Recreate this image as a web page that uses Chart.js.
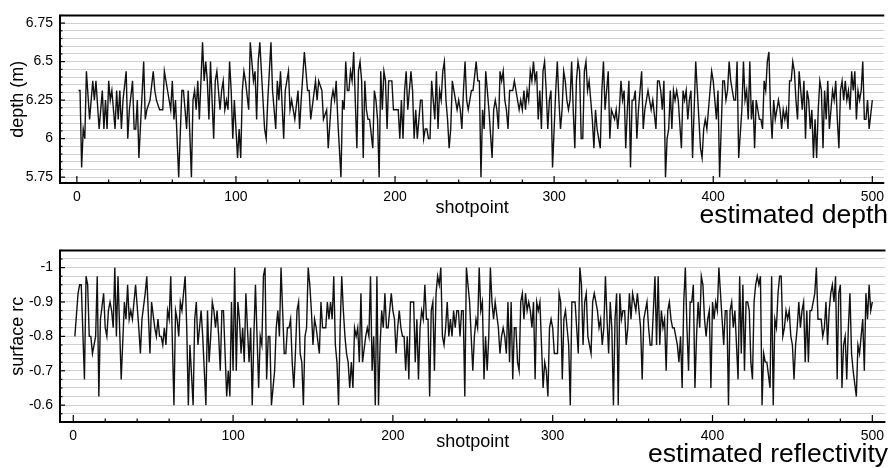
<!DOCTYPE html>
<html><head><meta charset="utf-8">
<script src="https://cdn.jsdelivr.net/npm/chart.js@4.4.1/dist/chart.umd.min.js"></script>
<style>
html,body{margin:0;padding:0;background:#fff;width:890px;height:468px;overflow:hidden;}
#c1{position:absolute;left:0;top:0;}
#c2{position:absolute;left:0;top:235px;}
</style></head><body>
<canvas id="c1" width="890" height="235"></canvas>
<canvas id="c2" width="890" height="233"></canvas>
<script>
// ---- estimated depth (m) vs shotpoint ----
const depthShot = [
1,2,3,4,5,6,8,10,11,12,14,15,16,17,18,19,20,21,22,24,25,26,27,28,29,31,32,33,35,36,37,38,39,42,43,44,46,48,49,50,52,54,55,57,58,59,60,61,62,64,66,67,69,70,72,73,74,75,76,77,
79,80,81,82,83,84,86,87,88,90,91,92,93,94,95,96,97,98,99,101,102,103,104,105,106,108,109,111,112,113,114,115,116,118,119,120,122,123,125,126,127,128,130,131,133,134,135,137,139,140,141,143,145,146,147,150,151,152,154,155,157,158,
160,161,162,163,164,166,167,168,169,170,171,172,173,174,176,177,178,179,180,181,182,183,184,186,187,188,189,190,191,192,193,194,195,196,198,199,201,202,203,204,205,206,207,208,210,211,212,213,214,215,216,217,218,219,220,221,222,223,225,226,227,228,229,230,231,232,233,234,235,236,238,239,240,241,242,243,244,
245,246,247,248,249,251,252,253,254,255,256,257,258,259,261,262,263,264,265,266,267,268,269,270,271,272,273,274,275,276,278,279,280,281,282,283,284,285,286,287,288,289,290,291,292,293,294,295,296,297,298,299,301,302,303,304,305,306,307,308,309,310,311,312,313,314,315,316,317,318,319,320,321,322,323,324,325,326,
327,329,330,331,332,333,334,335,336,338,339,340,341,342,343,344,345,346,347,348,349,350,351,352,353,354,355,356,357,358,359,360,361,362,364,365,366,367,368,369,370,371,372,373,374,375,376,377,378,380,381,382,383,384,385,386,387,388,389,390,391,392,393,394,395,396,397,398,399,400,401,402,403,404,406,407,408,409,410,411,412,413,
414,415,416,418,419,420,421,422,423,424,425,426,427,428,429,430,431,432,433,434,435,436,437,438,439,441,442,443,444,445,446,447,448,449,450,451,452,453,454,455,456,457,458,459,460,461,462,463,464,465,466,467,468,469,470,471,472,473,475,476,477,478,479,480,481,482,483,484,485,486,487,488,489,490,491,492,493,494,495,496,497,498,500
];
const depthValue = [
6.3125,6.3125,5.8125,6.0625,6.0,6.4375,6.125,6.375,6.25,6.375,6.0625,6.1875,6.3125,6.0625,6.25,6.0625,6.375,6.25,6.3125,6.0625,6.3125,6.125,6.3125,6.0625,6.25,6.4375,6.0,6.1875,6.375,6.0625,6.0625,6.25,5.875,6.5,6.125,6.1875,6.25,6.4375,6.3125,6.25,6.1875,6.1875,6.4375,6.3125,6.25,6.1875,6.375,6.125,6.25,5.75,6.3125,6.3125,6.0625,6.3125,5.75,6.25,6.3125,6.1875,6.375,6.125,
6.625,6.375,6.5,6.375,6.125,6.5,6.0,6.375,6.4375,6.1875,6.3125,6.375,6.1875,6.25,6.1875,6.5,6.3125,6.0,6.25,5.875,6.0625,5.875,6.3125,6.4375,6.375,6.1875,6.625,6.375,6.4375,6.125,6.5,6.625,6.4375,6.0625,6.0,6.25,6.625,6.3125,6.0625,6.375,6.25,6.4375,6.0,6.3125,6.4375,6.1875,6.25,6.125,6.3125,6.0625,6.25,6.5625,6.3125,6.3125,6.125,6.375,6.25,6.375,6.3125,6.125,6.1875,5.9375,
6.25,6.3125,6.25,6.375,6.125,5.75,6.25,6.1875,6.5,6.3125,6.3125,6.4375,6.375,6.5625,5.9375,6.4375,6.5,6.375,5.875,6.375,6.1875,6.125,6.125,5.9375,6.3125,6.25,6.125,5.75,6.4375,6.1875,6.4375,6.375,6.0625,6.375,6.375,6.1875,6.1875,6.1875,6.0,6.25,6.0,6.3125,6.4375,6.1875,6.4375,6.3125,6.0,6.1875,6.0,6.125,6.25,6.25,6.0,6.0625,6.0625,6.0,6.0,6.375,6.125,6.4375,6.0625,6.3125,6.25,6.4375,6.5,6.25,6.125,5.9375,6.0625,6.375,6.25,6.1875,6.25,6.1875,6.0625,6.3125,6.5,
6.25,6.1875,6.25,6.3125,6.3125,6.5,6.375,6.375,5.75,6.1875,6.0625,6.4375,6.3125,6.1875,5.875,6.1875,6.25,6.1875,6.0625,6.4375,6.375,6.4375,6.25,6.1875,6.0625,6.3125,6.3125,6.3125,6.375,6.3125,6.1875,6.25,6.1875,6.3125,6.1875,6.3125,6.25,6.4375,6.375,6.5,6.375,6.4375,6.125,6.3125,6.0625,6.4375,6.5,6.3125,6.0625,6.25,6.3125,5.8125,6.3125,6.5,6.25,6.0625,6.1875,6.4375,6.375,6.25,6.1875,6.25,6.5,6.1875,5.9375,6.375,6.5,6.4375,6.0,6.0,6.4375,6.5,6.3125,6.375,6.25,6.125,5.9375,6.1875,
6.0625,5.9375,6.3125,6.5,6.1875,6.3125,6.4375,6.0,6.1875,6.125,6.1875,6.0625,6.1875,6.375,6.25,6.3125,5.9375,6.1875,6.375,5.8125,6.25,6.25,6.3125,6.0,6.1875,6.3125,6.4375,6.0625,6.1875,6.25,6.3125,6.25,6.1875,6.25,6.0625,6.375,6.375,6.3125,6.1875,6.375,5.75,6.0,6.0625,6.3125,6.0625,6.3125,6.25,6.3125,6.25,5.9375,6.3125,6.25,6.3125,6.125,6.25,6.3125,5.875,6.1875,6.5,6.3125,6.125,5.9375,5.875,6.0625,6.125,6.0625,6.1875,6.3125,6.4375,6.375,6.25,6.125,6.3125,5.75,6.375,6.375,6.25,6.3125,6.5,6.375,6.3125,6.25,
6.25,6.5,5.875,6.1875,6.5,6.25,6.3125,6.125,6.5,6.125,6.25,5.9375,6.25,6.1875,6.125,6.125,6.0625,6.375,6.3125,6.5,6.5625,6.1875,6.0,6.25,6.125,6.25,6.1875,6.0625,6.1875,6.125,6.1875,6.0625,6.375,6.375,6.5,6.4375,6.25,6.125,6.4375,6.3125,6.1875,6.375,6.0,6.3125,6.25,6.0625,6.1875,5.875,6.125,5.875,6.1875,6.375,6.3125,5.9375,6.3125,6.125,6.375,6.0625,6.3125,6.25,6.375,6.125,5.9375,6.3125,6.375,6.25,6.375,6.25,6.3125,6.1875,6.4375,6.3125,6.4375,6.125,6.3125,6.25,6.3125,6.5,6.125,6.125,6.25,6.0625,6.25
];

// ---- estimated reflectivity (surface rc) vs shotpoint ----
const rcShot = [
1,3,4,5,7,8,9,10,11,12,14,15,16,17,19,20,21,22,23,24,25,26,27,28,30,32,33,34,35,36,37,39,41,42,43,45,46,48,49,51,52,53,54,55,56,57,58,59,60,61,63,64,65,66,67,68,70,71,72,73,75,76,77,78,
80,81,82,83,84,85,86,87,88,89,90,91,92,93,94,95,96,97,98,99,100,101,102,103,104,105,106,107,108,109,110,111,112,113,114,115,116,117,118,119,120,121,122,123,124,
126,127,128,129,130,131,132,133,134,135,136,137,138,139,140,141,142,143,144,145,146,147,148,149,150,151,152,154,155,156,157,158,159,160,161,162,
163,164,165,166,167,168,169,170,171,172,173,174,175,176,177,178,179,180,181,183,184,185,186,187,188,189,190,191,192,193,194,195,196,197,
199,200,201,202,203,204,205,206,207,208,209,210,211,212,213,214,215,216,217,218,219,220,221,222,223,224,225,226,227,228,229,230,231,232,233,234,235,236,237,238,239,240,241,242,243,244,245,246,
248,249,250,251,252,253,254,255,256,257,258,259,260,261,262,263,264,266,267,268,269,270,271,272,273,274,275,276,277,278,279,280,281,282,283,284,285,286,287,288,289,290,291,292,
294,295,296,297,298,299,300,301,302,303,304,305,306,307,308,309,310,311,312,313,314,315,316,317,318,319,320,321,322,324,325,326,327,328,329,330,
331,332,333,334,335,336,337,338,339,340,341,342,343,344,345,346,347,348,349,350,
352,353,354,355,356,357,358,359,360,361,362,363,364,365,366,367,368,369,370,371,372,373,374,375,376,377,378,379,380,381,382,383,384,385,386,387,388,389,390,391,392,393,394,395,396,397,398,399,400,401,402,403,404,406,407,408,409,410,411,412,413,414,
415,416,417,418,419,420,421,422,423,424,425,426,427,428,429,430,431,432,433,434,436,437,438,439,440,441,442,443,444,445,446,447,448,449,450,451,452,453,454,455,456,457,458,459,460,461,462,
464,465,466,467,468,469,470,471,472,473,474,475,476,477,478,479,480,481,482,483,484,485,486,487,488,490,491,492,493,494,495,496,497,498,499,500
];
const rcValue = [
-0.8,-0.925,-0.95,-0.95,-0.675,-0.975,-0.95,-0.8,-0.8,-0.75,-0.8,-0.975,-0.625,-0.85,-0.925,-0.825,-0.8,-0.875,-0.9,-0.875,-0.825,-1.0,-0.8,-0.975,-0.675,-0.9,-0.85,-0.95,-0.85,-0.875,-0.85,-0.95,-0.825,-0.75,-0.85,-0.925,-0.975,-0.75,-0.9,-0.825,-0.8,-0.85,-0.8,-0.8,-0.775,-0.825,-0.775,-0.875,-0.85,-0.975,-0.6,-0.875,-0.85,-0.8,-0.9,-0.875,-0.975,-0.825,-0.6,-0.775,-0.6,-0.85,-0.9,-0.775,
-0.875,-0.8,-0.7,-0.6,-0.875,-0.725,-0.8,-0.9,-0.875,-0.825,-0.875,-0.8,-0.7,-0.875,-0.875,-0.75,-0.625,-0.7,-0.625,-0.9,-0.7,-1.0,-0.7,-0.9,-0.85,-0.75,-0.825,-0.725,-0.925,-0.825,-0.725,-0.825,-0.6,-0.8,-0.95,-0.8,-0.65,-0.8,-0.775,-0.975,-1.0,-0.675,-0.8,-0.8,-0.6,
-0.7,-0.825,-0.875,-0.8,-1.0,-0.875,-0.75,-0.75,-0.825,-0.825,-0.85,-0.725,-0.65,-0.75,-0.875,-0.9,-0.75,-0.725,-0.6,-0.8,-0.825,-1.0,-0.95,-0.875,-0.775,-0.85,-0.825,-0.75,-0.9,-0.825,-0.825,-0.825,-0.9,-0.85,-0.9,-0.85,
-0.975,-0.775,-0.725,-0.6,-0.825,-0.975,-0.875,-0.8,-0.75,-0.725,-0.65,-0.725,-0.65,-0.825,-0.8,-0.825,-0.725,-0.925,-0.725,-0.8,-0.825,-0.8,-0.975,-0.7,-0.8,-0.6,-0.975,-0.6,-0.775,-0.875,-0.825,-0.925,-0.825,-0.825,
-0.925,-0.875,-0.85,-0.75,-0.825,-0.875,-0.825,-0.8,-0.8,-0.7,-0.8,-0.675,-0.9,-0.9,-0.9,-0.725,-0.85,-0.675,-0.825,-0.875,-0.85,-0.95,-0.85,-0.85,-0.625,-0.875,-0.9,-0.7,-0.925,-0.975,-0.95,-1.0,-0.8,-0.775,-0.825,-0.9,-0.8,-0.85,-0.8,-0.875,-0.825,-0.875,-0.875,-0.8,-0.875,-0.875,-0.625,-1.0,
-0.9,-0.8,-0.7,-0.8,-0.85,-0.825,-1.0,-0.875,-0.9,-0.675,-0.8,-0.7,-0.8,-1.0,-0.9,-0.85,-0.9,-0.825,-0.75,-0.8,-0.825,-0.8,-0.75,-0.9,-0.725,-0.9,-0.675,-0.825,-0.825,-0.725,-0.7,-0.9,-0.925,-0.85,-0.925,-0.875,-0.9,-0.875,-0.825,-0.9,-0.675,-0.9,-0.875,-0.9,
-0.65,-0.725,-0.7,-0.625,-0.825,-0.85,-0.825,-0.75,-0.75,-0.75,-0.925,-0.9,-0.675,-0.85,-0.875,-0.825,-0.775,-0.6,-0.9,-0.9,-0.9,-0.825,-0.75,-1.0,-0.95,-0.775,-0.9,-0.925,-0.8,-0.75,-0.9,-0.925,-0.9,-0.875,-0.825,-0.85,
-0.775,-0.825,-0.975,-0.85,-0.75,-0.9,-0.825,-0.6,-0.85,-0.925,-0.6,-0.925,-0.85,-0.875,-0.875,-0.775,-0.825,-0.925,-0.85,-0.925,
-0.875,-0.925,-0.875,-0.825,-0.675,-0.85,-0.875,-0.9,-0.825,-0.775,-0.775,-0.875,-0.975,-0.775,-0.975,-0.775,-0.875,-0.825,-0.85,-0.7,-0.875,-0.9,-0.85,-0.825,-0.825,-0.8,-0.775,-0.725,-0.8,-0.65,-0.9,-1.0,-0.825,-0.7,-0.9,-0.9,-0.95,-0.65,-0.8,-0.9,-0.825,-0.975,-0.95,-0.85,-0.8,-0.85,-0.875,-0.65,-0.9,-0.85,-0.9,-0.875,-1.0,-0.85,-0.775,-0.875,-0.875,-0.6,-0.875,-0.9,-0.825,-0.875,
-0.775,-0.675,-0.975,-0.75,-0.95,-0.7,-0.9,-0.9,-0.875,-0.725,-0.675,-0.9,-0.95,-0.975,-0.95,-0.975,-0.6,-0.75,-0.725,-0.725,-0.65,-0.975,-0.6,-0.85,-0.825,-0.925,-0.975,-0.975,-0.8,-0.825,-0.875,-0.85,-0.875,-0.8,-0.775,-0.675,-0.775,-0.825,-0.9,-0.825,-0.875,-0.9,-0.725,-0.875,-0.725,-0.875,-0.875,
-0.925,-1.0,-0.85,-0.85,-0.85,-0.8,-0.825,-0.9,-0.775,-0.875,-0.925,-0.95,-0.9,-0.975,-0.675,-0.925,-0.95,-0.65,-0.775,-0.8,-0.675,-0.825,-0.925,-0.75,-0.7,-0.625,-0.775,-0.75,-0.8,-0.85,-0.7,-0.925,-0.85,-0.95,-0.875,-0.9
];

// ---- tick labels ----
const shotTickLabels = ['0','100','200','300','400','500'];
const depthTickLabels = ['5.75','6','6.25','6.5','6.75'];
const rcTickLabels = ['-1','-0.9','-0.8','-0.7','-0.6'];

const FONT = '"Liberation Sans", Arial, Helvetica, sans-serif';

function isMajor(labels, v){
  return labels.some(l => Math.abs(parseFloat(l) - v) < 1e-6);
}
function labelFor(labels, v){
  const l = labels.find(l => Math.abs(parseFloat(l) - v) < 1e-6);
  return l === undefined ? '' : l;
}

const frameTicks = {
  id: 'frameTicks',
  afterDatasetsDraw(chart, args, o) {
    const {ctx, chartArea: a, scales: {x, y}} = chart;
    ctx.save();
    ctx.strokeStyle = '#000';
    ctx.lineWidth = 1.2;
    for (let v = 0; v <= 500; v += 20) {
      const px = x.getPixelForValue(v);
      const len = (v % 100 === 0) ? 7 : 3.5;
      ctx.beginPath(); ctx.moveTo(px, a.bottom); ctx.lineTo(px, a.bottom - len); ctx.stroke();
    }
    y.ticks.forEach(t => {
      const py = y.getPixelForValue(t.value);
      const len = isMajor(o.labels, t.value) ? 5 : 2.5;
      ctx.beginPath(); ctx.moveTo(a.left, py); ctx.lineTo(a.left + len, py); ctx.stroke();
    });
    ctx.lineWidth = 2;
    ctx.beginPath();
    ctx.moveTo(a.right, a.top); ctx.lineTo(a.left, a.top);
    ctx.lineTo(a.left, a.bottom); ctx.lineTo(a.right, a.bottom);
    ctx.stroke();
    ctx.fillStyle = '#000';
    ctx.font = '26.5px ' + FONT;
    ctx.textAlign = 'right';
    ctx.textBaseline = 'alphabetic';
    ctx.fillText(o.caption, o.cx, o.cy);
    ctx.restore();
  }
};

function makeChart(el, cfg) {
  const data = cfg.shots.map((s, i) => ({x: s, y: cfg.values[i]}));
  return new Chart(el, {
    type: 'line',
    data: { datasets: [{ data, borderColor: '#111', borderWidth: 1.4, pointRadius: 0, tension: 0, fill: false }] },
    plugins: [frameTicks],
    options: {
      responsive: false, animation: false, devicePixelRatio: 1,
      layout: { padding: { top: cfg.padTop, left: 0, right: 0, bottom: 0 } },
      plugins: {
        legend: { display: false }, tooltip: { enabled: false },
        frameTicks: { labels: cfg.tickLabels, caption: cfg.caption, cx: 888, cy: cfg.capY }
      },
      scales: {
        x: {
          type: 'linear', min: cfg.xMin, max: cfg.xMax,
          afterFit: s => { s.height = cfg.xHeight; },
          afterBuildTicks: s => { s.ticks = shotTickLabels.map(l => ({ value: parseFloat(l) })); },
          grid: { display: false, drawTicks: false },
          border: { display: false },
          ticks: { autoSkip: false, maxRotation: 0, padding: 6, color: '#000',
                   font: { family: FONT, size: 14 },
                   callback: v => labelFor(shotTickLabels, v) },
          title: { display: true, text: 'shotpoint', color: '#000',
                   font: { family: FONT, size: 18 }, padding: { top: 0, bottom: cfg.xTitlePad } }
        },
        y: {
          type: 'linear', min: cfg.yMin, max: cfg.yMax, reverse: cfg.reverse,
          afterFit: s => { s.width = 60; },
          afterBuildTicks: s => {
            const t = [];
            for (let i = 0; ; i++) {
              const v = +(cfg.gridStart + i * cfg.gridStep).toFixed(4);
              if (v > cfg.yMax + 1e-9) break;
              t.push({ value: v });
            }
            s.ticks = t;
          },
          grid: { color: '#d0d0d0', lineWidth: 1, drawTicks: false },
          border: { display: false },
          ticks: { autoSkip: false, padding: 7, color: '#000',
                   font: { family: FONT, size: 14 },
                   callback: v => labelFor(cfg.tickLabels, v) },
          title: { display: true, text: cfg.yTitle, color: '#000',
                   font: { family: FONT, size: 18 }, padding: { top: 7, bottom: 0 } }
        }
      }
    }
  });
}

makeChart(document.getElementById('c1'), {
  shots: depthShot, values: depthValue, tickLabels: depthTickLabels,
  yTitle: 'depth (m)', caption: 'estimated depth', capY: 223,
  padTop: 10, xHeight: 52, xTitlePad: 16,
  xMin: -10.6, xMax: 507.5, yMin: 5.712, yMax: 6.8, reverse: false,
  gridStart: 5.75, gridStep: 0.05
});

makeChart(document.getElementById('c2'), {
  shots: rcShot, values: rcValue, tickLabels: rcTickLabels,
  yTitle: 'surface rc', caption: 'estimated reflectivity', capY: 227,
  padTop: 13, xHeight: 46, xTitlePad: 14.7,
  xMin: -8.3, xMax: 508.2, yMin: -1.05, yMax: -0.551, reverse: true,
  gridStart: -1.05, gridStep: 0.025
});
</script>
</body></html>
